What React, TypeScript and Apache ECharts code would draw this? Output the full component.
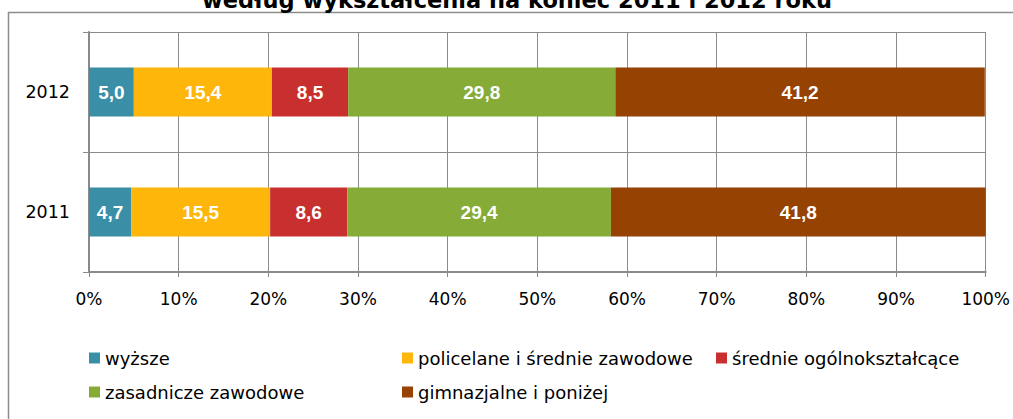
import React, { useEffect, useRef } from "react";
import * as echarts from "echarts";

const titleText = "według wykształcenia na koniec 2011 i 2012 roku";
const categories = ["2011", "2012"];
const seriesNames = [
  "wyższe",
  "policelane i średnie zawodowe",
  "średnie ogólnokształcące",
  "zasadnicze zawodowe",
  "gimnazjalne i poniżej",
];
const wyzsze = [4.7, 5.0];
const policelane = [15.5, 15.4];
const srednie = [8.6, 8.5];
const zasadnicze = [29.4, 29.8];
const gimnazjalne = [41.8, 41.2];
const colors = ["#3A8FA6", "#FFB60A", "#C8302F", "#86AB37", "#964203"];
const xTicks = [0, 10, 20, 30, 40, 50, 60, 70, 80, 90, 100];

export default function App() {
  const ref = useRef<HTMLDivElement>(null);
  useEffect(() => {
    if (!ref.current) return;
    const chart = echarts.init(ref.current, null, { renderer: "svg" });
    const values = [wyzsze, policelane, srednie, zasadnicze, gimnazjalne];
    const gridColor = "#8a8a8a";
    const axisFont = "DejaVu Sans";
    const legendText = { fontFamily: axisFont, fontSize: 18, color: "#000", lineHeight: 18 };
    const legendBase = {
      top: 349,
      orient: "vertical",
      padding: 0,
      itemWidth: 11,
      itemHeight: 11,
      itemGap: 16,
      icon: "rect",
      textStyle: legendText,
    };
    chart.setOption({
      animation: false,
      backgroundColor: "#fff",
      graphic: [
        {
          type: "line",
          shape: { x1: 8.5, y1: 12, x2: 8.5, y2: 419 },
          style: { stroke: "#8c8c8c", lineWidth: 1.5 },
          silent: true,
        },
        {
          type: "line",
          shape: { x1: 8, y1: 12.5, x2: 1013, y2: 12.5 },
          style: { stroke: "#8c8c8c", lineWidth: 1.5 },
          silent: true,
        },
        {
          type: "text",
          x: 517,
          y: 0,
          style: {
            text: titleText,
            fontFamily: "DejaVu Sans",
            fontWeight: "bold",
            fontSize: 22.5,
            fill: "#000",
            textAlign: "center",
            textVerticalAlign: "middle",
          },
          silent: true,
        },
      ],
      grid: { left: 89, right: 26, top: 32, bottom: 147, containLabel: false },
      xAxis: {
        type: "value",
        min: xTicks[0],
        max: xTicks[xTicks.length - 1],
        interval: 10,
        axisLine: { show: true, lineStyle: { color: gridColor, width: 2 } },
        axisTick: { show: true, length: 5, lineStyle: { color: gridColor } },
        splitLine: { show: true, lineStyle: { color: gridColor, width: 1 } },
        axisLabel: {
          formatter: "{value}%",
          color: "#000",
          fontSize: 17,
          fontFamily: axisFont,
          margin: 18,
        },
      },
      yAxis: {
        type: "category",
        data: categories,
        axisLine: { show: true, lineStyle: { color: gridColor, width: 2 } },
        axisTick: { show: true, length: 6, lineStyle: { color: gridColor } },
        splitLine: { show: true, lineStyle: { color: gridColor, width: 1 } },
        axisLabel: { color: "#000", fontSize: 17.5, fontFamily: axisFont, margin: 19 },
      },
      legend: [
        { ...legendBase, left: 89, data: [seriesNames[0], seriesNames[3]] },
        { ...legendBase, left: 402, data: [seriesNames[1], seriesNames[4]] },
        { ...legendBase, left: 716, data: [seriesNames[2]] },
      ],
      series: seriesNames.map((name, i) => ({
        name,
        type: "bar",
        stack: "total",
        barWidth: 49,
        data: values[i],
        itemStyle: { color: colors[i] },
        label: {
          show: true,
          position: "inside",
          color: "#fff",
          fontWeight: "bold",
          fontSize: 19,
          fontFamily: "Liberation Sans",
          formatter: (p: any) => Number(p.value).toFixed(1).replace(".", ","),
        },
      })),
    });
    return () => chart.dispose();
  }, []);
  return (
    <div
      ref={ref}
      style={{ position: "absolute", left: 0, top: 0, width: 1013, height: 419 }}
    />
  );
}
